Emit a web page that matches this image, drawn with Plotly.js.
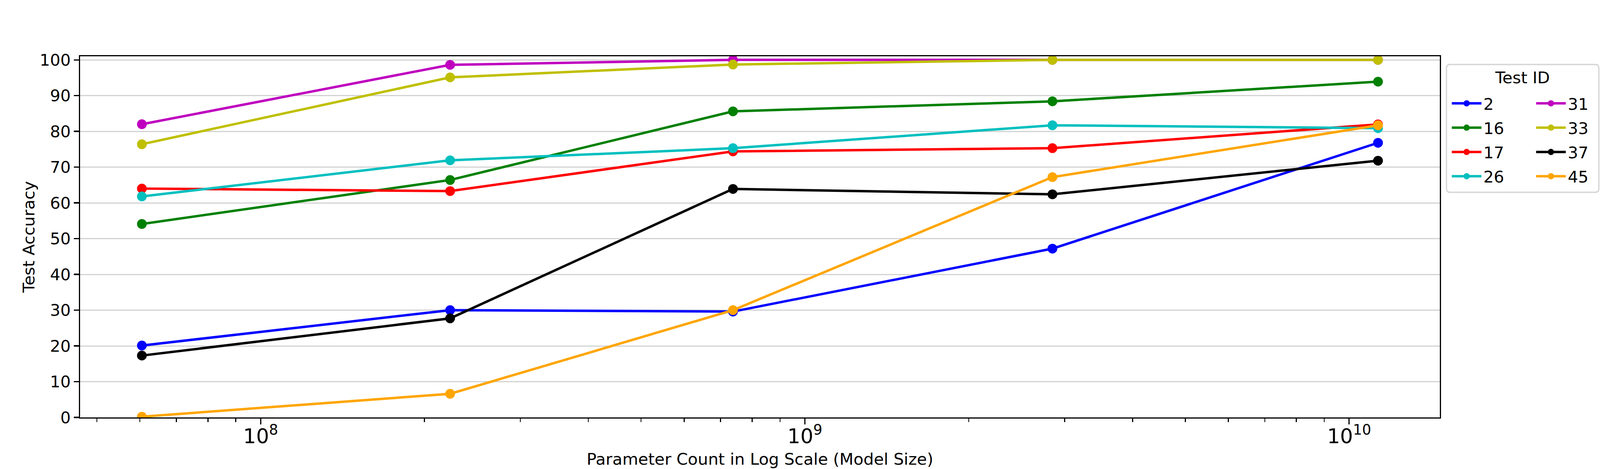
<!DOCTYPE html>
<html>
<head>
<meta charset="utf-8">
<script src="https://cdn.plot.ly/plotly-3.0.1.min.js"></script>
<style>
html, body { margin: 0; padding: 0; background: #fff; overflow: hidden; }
#chart { width: 100vw; height: 100vh; }
</style>
</head>
<body>
<div id="chart"></div>
<script>
// model sizes (parameter counts) on the x axis
const paramCounts = [60.5e6, 222.9e6, 737.7e6, 2.85e9, 11.3e9];

// test accuracy per test id
const testIds = ["2", "16", "17", "26", "31", "33", "37", "45"];
const acc2 = [20.1, 30.0, 29.6, 47.2, 76.8];
const acc16 = [54.1, 66.4, 85.6, 88.4, 93.9];
const acc17 = [64.0, 63.3, 74.4, 75.3, 81.95];
const acc26 = [61.8, 71.9, 75.3, 81.7, 80.9];
const acc31 = [82.0, 98.6, 100.0, 100.0, 100.0];
const acc33 = [76.4, 95.1, 98.7, 100.0, 100.0];
const acc37 = [17.3, 27.7, 63.9, 62.4, 71.8];
const acc45 = [0.2, 6.6, 30.0, 67.2, 81.7];

const accuracies = [acc2, acc16, acc17, acc26, acc31, acc33, acc37, acc45];
const seriesColors = ["#0000ff", "#008000", "#ff0000", "#00bfbf", "#bf00bf", "#bfbf00", "#000000", "#ffa500"];

// the figure was laid out for 4800x1200; horizontal sizes follow the window
const W = window.innerWidth, H = window.innerHeight;
const sx = W / 4800, sy = H / 1200;
const fontSize = 41.67 * sy;

let data = testIds.map((id, i) => ({
    type: "scatter",
    mode: "lines+markers",
    name: id,
    x: paramCounts,
    y: accuracies[i],
    line: { color: seriesColors[i], width: 6.25 },
    marker: { color: seriesColors[i], size: 25 },
    legend: i < 4 ? "legend" : "legend2",
    legendgroup: id,
}));

// legend frame (rounded box) in paper coords
const bx0 = 1.0049, bx1 = 1.11691, by0 = 0.62338, by1 = 0.97727;
const rx = 0.00245, ry = 0.01082;
const framePath =
    `M${bx0 + rx},${by1} L${bx1 - rx},${by1} Q${bx1},${by1} ${bx1},${by1 - ry} ` +
    `L${bx1},${by0 + ry} Q${bx1},${by0} ${bx1 - rx},${by0} ` +
    `L${bx0 + rx},${by0} Q${bx0},${by0} ${bx0},${by0 + ry} ` +
    `L${bx0},${by1 - ry} Q${bx0},${by1} ${bx0 + rx},${by1} Z`;

const legendCommon = {
    xanchor: "left",
    yanchor: "top",
    y: 0.906,
    bgcolor: "rgba(0,0,0,0)",
    borderwidth: 0,
    itemwidth: Math.max(30, 89 * sx),
    tracegroupgap: 5 * sy,
    traceorder: "grouped",
    font: { size: fontSize, color: "black" },
};

let layout = {
    width: W,
    height: H,
    margin: { l: 240 * sx, r: 480 * sx, t: 144 * sy, b: 132 * sy, pad: 0 },
    paper_bgcolor: "white",
    plot_bgcolor: "white",
    font: { family: "DejaVu Sans", size: fontSize, color: "black" },
    showlegend: true,
    xaxis: {
        type: "log",
        range: [7.6682, 10.1667],
        dtick: 1,
        exponentformat: "power",
        showgrid: false,
        zeroline: false,
        showline: true,
        mirror: true,
        linecolor: "black",
        linewidth: 3.3,
        ticks: "outside",
        ticklen: 14.6 * sy,
        tickwidth: 3.3,
        tickcolor: "black",
        ticklabelstandoff: -12,
        minor: {
            ticks: "outside",
            dtick: "D1",
            ticklen: 8.3 * sy,
            tickwidth: 2.5,
            tickcolor: "black",
            showgrid: false,
        },
        title: {
            text: "Parameter Count in Log Scale (Model Size)",
            standoff: 15 * sy,
            font: { size: fontSize },
        },
    },
    yaxis: {
        range: [0, 101],
        tick0: 0,
        dtick: 10,
        showgrid: true,
        gridcolor: "#d3d3d3",
        gridwidth: 3,
        zeroline: false,
        showline: true,
        mirror: true,
        linecolor: "black",
        linewidth: 3.3,
        ticks: "outside",
        ticklen: 14.6 * sx,
        tickwidth: 3.3,
        tickcolor: "black",
        title: {
            text: "Test Accuracy",
            standoff: 0,
            font: { size: fontSize },
        },
    },
    legend: Object.assign({}, legendCommon, { x: 1.00735 }),
    legend2: Object.assign({}, legendCommon, { x: 1.06936 }),
    shapes: [
        {
            type: "path",
            xref: "paper",
            yref: "paper",
            path: framePath,
            line: { color: "#d6d6d6", width: 3.3 },
            fillcolor: "rgba(0,0,0,0)",
            layer: "above",
        },
    ],
    annotations: [
        {
            xref: "paper",
            yref: "paper",
            x: 1.06078,
            y: 0.94048,
            xanchor: "center",
            yanchor: "middle",
            showarrow: false,
            text: "Test ID",
            font: { size: fontSize, color: "black" },
        },
    ],
};

Plotly.newPlot("chart", data, layout, {
    displayModeBar: false,
    staticPlot: true,
});
</script>
</body>
</html>
